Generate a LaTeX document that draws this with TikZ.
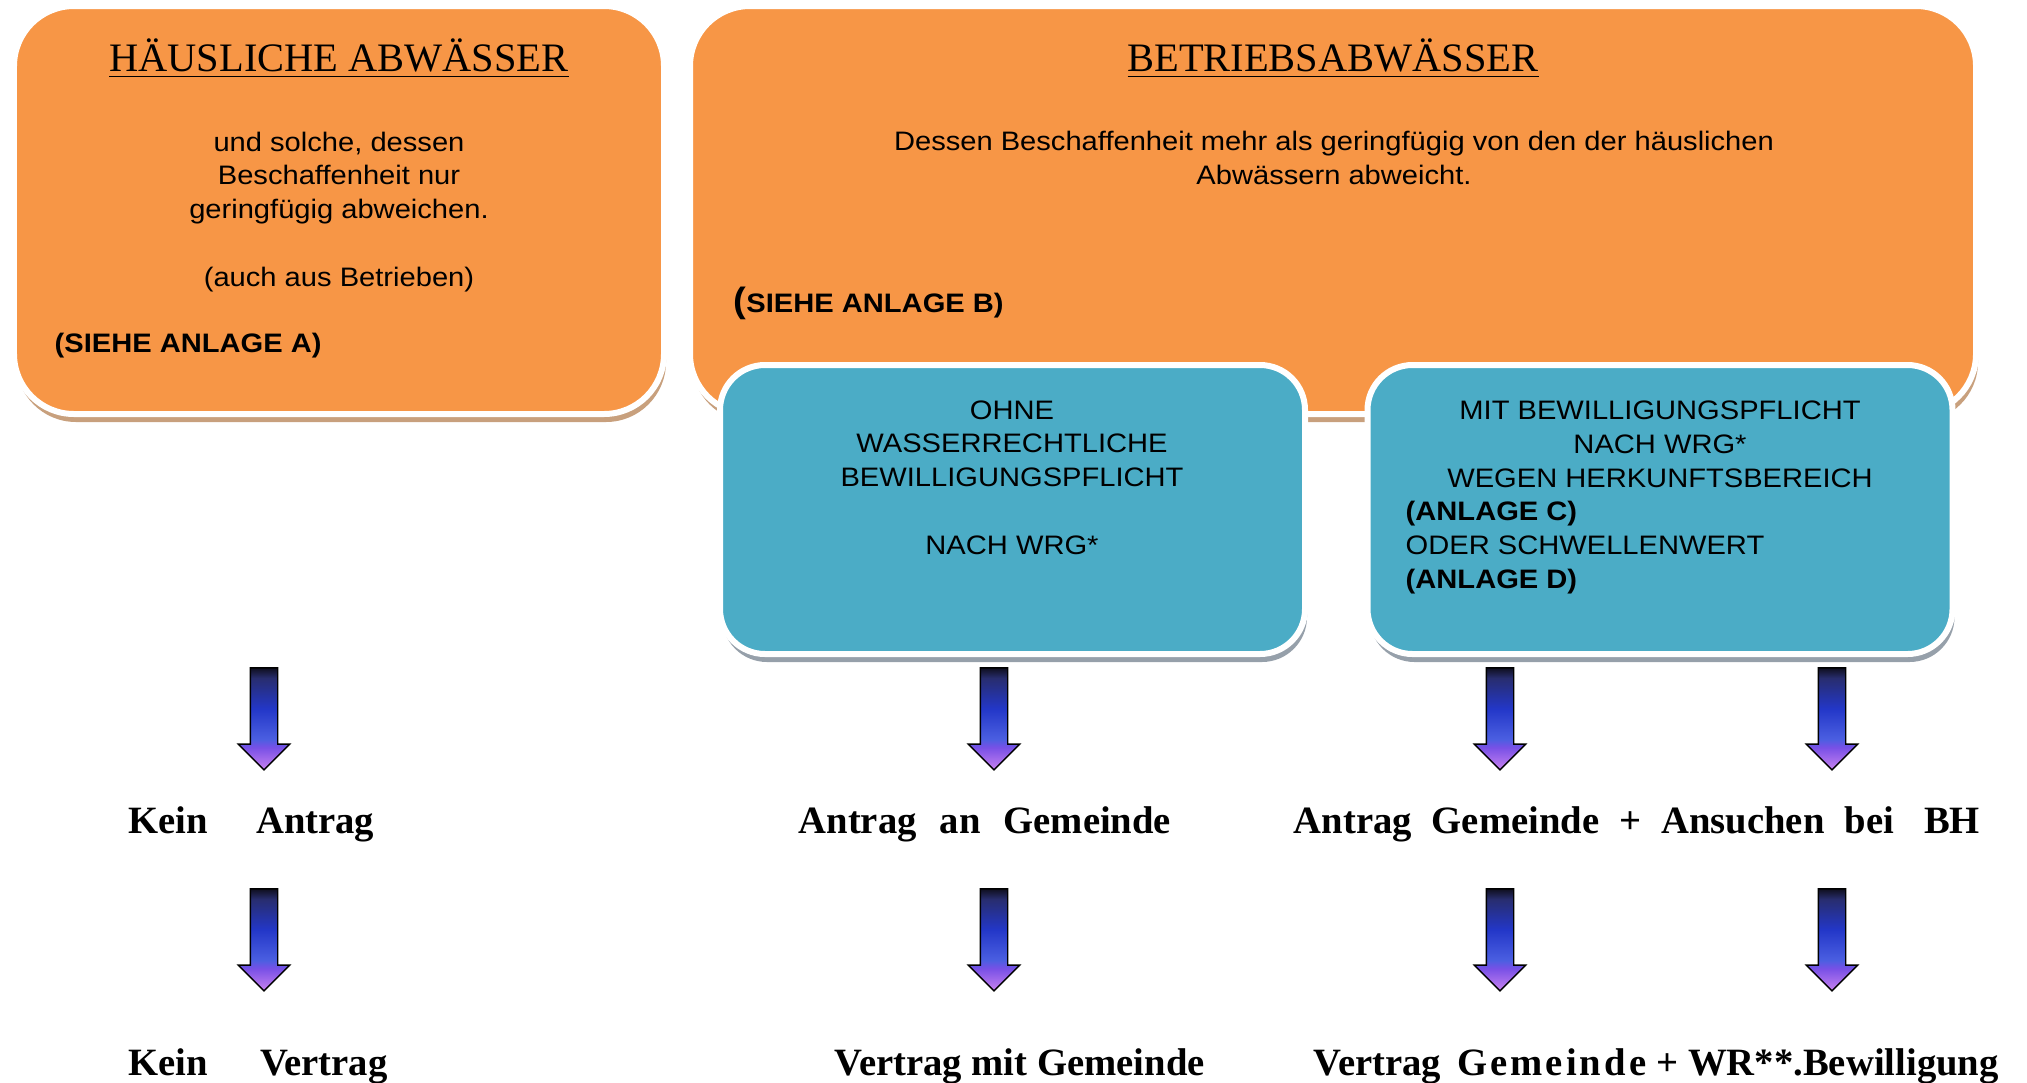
\documentclass[tikz,border=0pt]{standalone}
\usepackage{fontspec}
\setmainfont{Liberation Serif}
\newfontfamily\boxfont[FakeStretch=1.09]{Liberation Sans}
\usetikzlibrary{shadows, shapes.arrows}
\definecolor{my_orange}{RGB}{247, 150, 70}
\definecolor{my_blue}{RGB}{75, 172, 198}
\definecolor{my_tan}{RGB}{200, 160, 125}
\definecolor{my_grey}{RGB}{150, 160, 170}
\definecolor{my_arrowtop}{RGB}{15, 15, 30}
\definecolor{my_arrowdark}{RGB}{40, 45, 110}
\definecolor{my_arrowmid}{RGB}{35, 55, 200}
\definecolor{my_arrowlow}{RGB}{75, 95, 225}
\definecolor{my_arrowhead}{RGB}{120, 80, 230}
\definecolor{my_arrowtip}{RGB}{200, 130, 240}
\pgfdeclareverticalshading{arrowfade}{100bp}{color(0bp)=(my_arrowtip); color(25bp)=(my_arrowtip); color(36bp)=(my_arrowhead);
  color(40bp)=(my_arrowlow); color(55bp)=(my_arrowmid); color(70bp)=(my_arrowdark); color(75bp)=(my_arrowtop); color(100bp)=(my_arrowtop)}
\tikzset {
  bigbox/.style = {draw=white, line width=0.06cm, fill=my_orange, rounded corners=0.6cm, rectangle, minimum height=4.08cm, inner sep=0pt,
                   drop shadow={shadow xshift=0.02cm, shadow yshift=-0.08cm, fill=my_tan, opacity=1}},
  box/.style = {draw=white, line width=0.06cm, fill=my_blue, rounded corners=0.45cm, rectangle, minimum width=5.85cm, minimum height=2.89cm, inner sep=0pt,
                drop shadow={shadow xshift=0.02cm, shadow yshift=-0.08cm, fill=my_grey, opacity=1}},
  title/.style = {inner sep=0pt, anchor=base, font=\fontsize{11.5}{14}\selectfont},
  % multi-line texts: the base anchor sits just under the last line
  body/.style = {inner sep=0pt, align=center, anchor=base, font=\boxfont\fontsize{7.6}{9.6}\selectfont},
  bodyleft/.style = {inner sep=0pt, align=left, anchor=base west, font=\boxfont\fontsize{7.6}{9.6}\selectfont},
  bodybold/.style = {bodyleft, font=\boxfont\bfseries\fontsize{7.6}{9.6}\selectfont},
  bigarrow/.style = {single arrow, shape border rotate=270, draw=black, line width=0.4pt, inner sep=0.13cm,
                     minimum height=1.02cm, minimum width=0.5cm, single arrow head extend=0.12cm, shading=arrowfade},
  result/.style = {inner sep=0pt, anchor=base west, font=\fontsize{11}{13}\selectfont\bfseries}
}

\begin{document}
\begin{tikzpicture}
    \useasboundingbox (0,0) rectangle (20.27,-10.82);

    % boxes
    \node[bigbox, minimum width=6.50cm] (haus) at (3.39,-2.10) {};
    \node[bigbox, minimum width=12.86cm] (betrieb) at (13.33,-2.10) {};
    \node[box] (ohne) at (10.125,-5.095) {};
    \node[box] (mit) at (16.60,-5.095) {};

    % texts in the boxes
    \node[title] (hausTitle) at (3.39,-0.71) {\underline{HÄUSLICHE ABWÄSSER}};
    \node[body] (hausText) at (3.39,-2.86) {und solche, dessen\\Beschaffenheit nur\\geringfügig abweichen.\\[9.6pt](auch aus Betrieben)};
    \node[bodybold] (hausRef) at (0.54,-3.52) {(SIEHE ANLAGE A)};

    \node[title] (betrTitle) at (13.33,-0.71) {\underline{BETRIEBSABWÄSSER}};
    \node[body] (betrText) at (13.34,-1.84) {Dessen Beschaffenheit mehr als geringfügig von den der häuslichen\\Abwässern abweicht.};
    \node[bodybold] (betrRef) at (7.33,-3.12) {{\fontsize{10}{10}\selectfont(}SIEHE ANLAGE B)};

    \node[body] (ohneText) at (10.12,-5.54) {OHNE\\WASSERRECHTLICHE\\BEWILLIGUNGSPFLICHT\\[9.6pt]NACH WRG*};
    \node[body] (mitText) at (16.60,-4.87) {MIT BEWILLIGUNGSPFLICHT\\NACH WRG*\\WEGEN HERKUNFTSBEREICH};
    \node[bodyleft] (mitRef) at (14.05,-5.88) {\textbf{(ANLAGE C)}\\ODER SCHWELLENWERT\\\textbf{(ANLAGE D)}};

    % arrows
    \foreach \x/\n in {2.64/A, 9.94/B, 15.00/C, 18.32/D} {
      \node[bigarrow] (arrowUp\n) at (\x,-7.12) {};
      \node[bigarrow] (arrowDown\n) at (\x,-9.33) {};
    }

    % results
    \node[result] (keinAntrag) at (1.28,-8.33) {Kein\hspace{0.48cm}Antrag};
    \node[result] (antragGem) at (7.98,-8.33) {Antrag\hspace{0.23cm}an\hspace{0.23cm}Gemeinde};
    \node[result] (antragBH) at (12.93,-8.33) {Antrag\hspace{0.2cm}Gemeinde\hspace{0.2cm}+\hspace{0.2cm}Ansuchen\hspace{0.2cm}bei\hspace{0.3cm}BH};
    \node[result] (keinVertrag) at (1.28,-10.75) {Kein\hspace{0.52cm}Vertrag};
    \node[result] (vertragGem) at (8.34,-10.75) {Vertrag mit Gemeinde};
    \node[result] (vertragBH) at (13.13,-10.75) {Vertrag\hspace{0.16cm}{\addfontfeature{LetterSpace=8}Gemeinde}\hspace{0.1cm}+\hspace{0.1cm}WR**.Bewilligung};

\end{tikzpicture}
\end{document}
